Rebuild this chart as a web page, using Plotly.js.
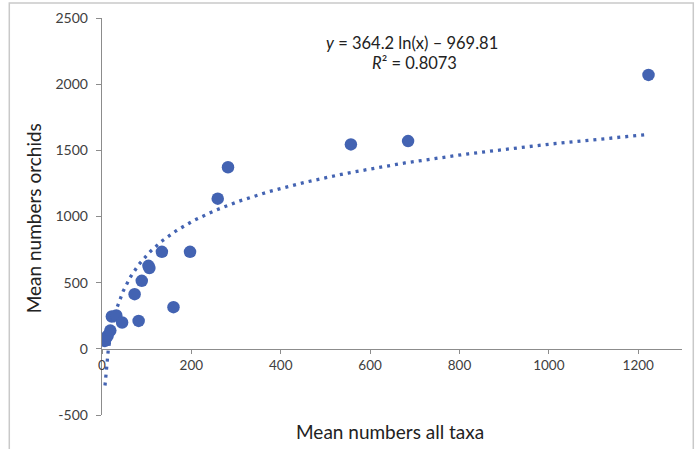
<!DOCTYPE html>
<html>
<head>
<meta charset="utf-8">
<script src="https://cdn.plot.ly/plotly-3.0.1.min.js"></script>
<style>html,body{margin:0;padding:0;background:#fff;}#chart{width:695px;height:449px;}</style>
</head>
<body>
<div id="chart"></div>
<script>
// Data points
const taxaMeans = [6.7, 12.5, 18.6, 22, 32, 45, 73, 82, 89, 104, 106, 134, 160, 197, 259, 282, 557, 685, 1223];
const orchidMeans = [60, 98, 138, 244, 252, 199, 413, 211, 514, 627, 610, 733, 315, 733, 1135, 1372, 1545, 1570, 2070];
// Logarithmic trendline coefficients shown on the chart
const trendCoef = [364.2, -969.81];
const trendLabel = ["<i>y</i> = 364.2 ln(x) \u2013 969.81", "<i>R</i>\u00b2 = 0.8073"];
const axisTitles = ["Mean numbers all taxa", "Mean numbers orchids"];
const yTicks = [-500, 0, 500, 1000, 1500, 2000, 2500];
const yTickText = ["-500", "0", "500", "1000", "1500", "2000", "2500"];
const xTicks = [0, 200, 400, 600, 800, 1000, 1200];

const xMin = Math.min(...taxaMeans), xMax = Math.max(...taxaMeans);
const tx = [], ty = [];
for (let i = 0; i <= 300; i++) {
  const x = xMin * Math.pow(xMax / xMin, i / 300);
  tx.push(x);
  ty.push(trendCoef[0] * Math.log(x) + trendCoef[1]);
}
const blue = '#4363B2';
const traces = [
  {x: tx, y: ty, mode: 'lines', type: 'scatter', line: {color: blue, width: 3.3, dash: '3px,5px'}, hoverinfo: 'skip'},
  {x: taxaMeans, y: orchidMeans, mode: 'markers', type: 'scatter', marker: {color: blue, size: 12.5}}
];
const font = 'Lato, "Open Sans", sans-serif';
const PL = 101.7, PT = 18, PW = 580, PH = 397;
const px = v => (v - PL) / PW;
const py = v => (PT + PH - v) / PH;
const layout = {
  width: 695, height: 449,
  margin: {l: PL, r: 695 - PL - PW, t: PT, b: 449 - PT - PH},
  showlegend: false,
  paper_bgcolor: '#fff', plot_bgcolor: '#fff',
  font: {family: font, color: '#404040', size: 13},
  xaxis: {
    range: [0, 1298], tickvals: xTicks, showgrid: false, zeroline: false,
    showline: true, linecolor: '#8c8c8c', linewidth: 1.3,
    ticks: 'outside', ticklen: 4, tickcolor: '#8c8c8c',
    anchor: 'free', position: 500 / 3000,
    tickfont: {size: 13.5, color: '#404040'}
  },
  yaxis: {
    range: [-500, 2500], tickvals: yTicks, ticktext: yTickText, showgrid: false, zeroline: false,
    showline: true, linecolor: '#8c8c8c', linewidth: 1.3,
    ticks: 'outside', ticklen: 5, tickcolor: '#8c8c8c', ticklabelstandoff: 5,
    tickfont: {size: 14, color: '#404040'}
  },
  annotations: [
    {xref: 'paper', yref: 'paper', x: px(412), y: py(43), text: trendLabel[0], showarrow: false, font: {size: 16.5, color: '#222'}, xanchor: 'center', yanchor: 'middle'},
    {xref: 'paper', yref: 'paper', x: px(414.5), y: py(63), text: trendLabel[1], showarrow: false, font: {size: 16.5, color: '#222'}, xanchor: 'center', yanchor: 'middle'},
    {xref: 'paper', yref: 'paper', x: px(390), y: py(431), text: axisTitles[0], showarrow: false, font: {size: 19, color: '#222'}, xanchor: 'center', yanchor: 'middle'},
    {xref: 'paper', yref: 'paper', x: px(33), y: py(218), text: axisTitles[1], textangle: -90, showarrow: false, font: {size: 19, color: '#222'}, xanchor: 'center', yanchor: 'middle'}
  ],
  shapes: [
    {type: 'rect', xref: 'paper', yref: 'paper', x0: px(9), x1: px(693), y0: -0.3, y1: py(3), line: {color: '#c9c9c9', width: 1.5}, layer: 'below'}
  ]
};
Plotly.newPlot('chart', traces, layout, {displayModeBar: false, staticPlot: true});
</script>
</body>
</html>
